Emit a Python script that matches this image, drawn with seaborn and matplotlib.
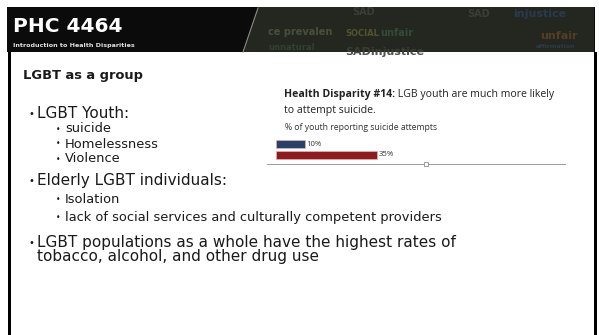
import matplotlib
matplotlib.use("Agg")
import matplotlib.pyplot as plt
import seaborn as sns
import pandas as pd
from matplotlib.patches import Rectangle, Polygon
from matplotlib.lines import Line2D

# ---- data ----
groups = ["Heterosexual youth", "LGB youth"]
attempt_pct = [10, 35]
bar_labels = ["10%", "35%"]
bar_colors = ["#1c3f74", "#9e0a0f"]

slide_code = "PHC 4464"
slide_subtitle = "Introduction to Health Disparities"
slide_heading = "LGBT as a group"
bullets = [
    (0, "LGBT Youth:"),
    (1, "suicide"),
    (1, "Homelessness"),
    (1, "Violence"),
    (0, "Elderly LGBT individuals:"),
    (1, "Isolation"),
    (1, "lack of social services and culturally competent providers"),
    (0, "LGBT populations as a whole have the highest rates of\ntobacco, alcohol, and other drug use"),
]
chart_title_bold = "Health Disparity #14:"
chart_title_rest = " LGB youth are much more likely"
chart_title_line2 = "to attempt suicide."
chart_subtitle = "% of youth reporting suicide attempts"
cloud_words = [("ce prevalen", 268, 32, "#4d5540", 7), ("SAD", 352, 12, "#3c403a", 7),
               ("SOCIAL", 345, 33, "#5a5730", 6), ("unfair", 380, 33, "#34503a", 7),
               ("SADinjustice", 345, 52, "#3c4038", 8), ("injustice", 513, 14, "#2a3d55", 8),
               ("unfair", 540, 36, "#5a3f26", 8), ("SAD", 467, 14, "#3c403a", 7),
               ("unnatural", 268, 47, "#344530", 6), ("affirmation", 536, 47, "#2e3d4d", 4.5)]

W, H = 599, 335
fig = plt.figure(figsize=(W / 100, H / 100), dpi=100)
fig.patch.set_facecolor("white")


def fx(x):
    return x / W


def fy(y):
    return 1 - y / H


# ---- header band ----
fig.patches.append(Rectangle((fx(7), fy(52)), fx(588), 45 / H, transform=fig.transFigure,
                             facecolor="#0b0b0b", edgecolor="none", zorder=0))
fig.patches.append(Polygon([(fx(258), fy(7)), (fx(594), fy(7)), (fx(594), fy(52)), (fx(243), fy(52))],
                           closed=True, transform=fig.transFigure, facecolor="#23271f",
                           edgecolor="none", zorder=0.5))
fig.lines.append(Line2D([fx(258), fx(243)], [fy(8), fy(52)], transform=fig.transFigure,
                        color="#8a8a8a", lw=0.8, zorder=1))
for word, x, y, c, s in cloud_words:
    fig.text(fx(x), fy(y), word, color=c, fontsize=s, fontweight="bold", va="center",
             ha="left", alpha=0.9, family="DejaVu Sans", zorder=1, clip_on=True)

fig.text(fx(13), fy(26), slide_code, color="white", fontsize=14.5, fontweight="bold",
         va="center", ha="left", family="DejaVu Sans", zorder=2)
fig.text(fx(13), fy(46), slide_subtitle, color="#e0e0e0", fontsize=4.6, fontweight="bold",
         va="center", ha="left", family="DejaVu Sans", zorder=2)

# ---- side borders ----
fig.patches.append(Rectangle((fx(8), 0), fx(2.5), fy(52), transform=fig.transFigure,
                             facecolor="black", edgecolor="none", zorder=2))
fig.patches.append(Rectangle((fx(594), 0), fx(3), fy(52), transform=fig.transFigure,
                             facecolor="black", edgecolor="none", zorder=2))

# ---- slide text ----
txt_color = "#1a1a1a"
fig.text(fx(23), fy(75), slide_heading, fontsize=9.4, fontweight="bold", color=txt_color,
         va="center", ha="left", family="DejaVu Sans")
ys = [114, 129, 144, 159, 181, 200, 218, 243]
for (lvl, txt), y in zip(bullets, ys):
    if lvl == 0:
        fig.text(fx(28), fy(y), "•", fontsize=7, color=txt_color, va="center", ha="left")
        if "\n" in txt:
            fig.text(fx(37), fy(y - 7.5), txt, fontsize=11, color=txt_color, va="top",
                     ha="left", family="DejaVu Sans", linespacing=0.85)
        else:
            fig.text(fx(37), fy(y), txt, fontsize=11, color=txt_color, va="center",
                     ha="left", family="DejaVu Sans")
    else:
        fig.text(fx(56), fy(y), "•", fontsize=5.5, color=txt_color, va="center", ha="left")
        fig.text(fx(65), fy(y), txt, fontsize=9.4, color=txt_color, va="center", ha="left",
                 family="DejaVu Sans")

# ---- chart text ----
t = fig.text(fx(284), fy(95), chart_title_bold, fontsize=7.6, fontweight="bold", color="#222222",
             va="center", ha="left", family="Open Sans")
fig.canvas.draw()
bb = t.get_window_extent()
fig.text(bb.x1 / W, fy(95), chart_title_rest, fontsize=7.6, color="#222222",
         va="center", ha="left", family="Open Sans")
fig.text(fx(284), fy(110), chart_title_line2, fontsize=7.6, color="#222222",
         va="center", ha="left", family="Open Sans")
fig.text(fx(285), fy(128), chart_subtitle, fontsize=6.2, color="#333333",
         va="center", ha="left", family="Open Sans")

# ---- bars ----
ax = fig.add_axes([fx(276), fy(160), fx(565) - fx(276), 21 / H])
df = pd.DataFrame({"group": groups, "pct": attempt_pct})
sns.barplot(data=df, x="pct", y="group", hue="group", palette=bar_colors, orient="h",
            legend=False, ax=ax, width=0.78, linewidth=0.5, edgecolor="#e9b0b0")
ax.set_xlim(0, 100.5)
ax.axis("off")
for i, (v, lab) in enumerate(zip(attempt_pct, bar_labels)):
    ax.text(v + 0.6, i, lab, fontsize=5.6, color="#333333", va="center", ha="left",
            family="Open Sans")

fig.lines.append(Line2D([fx(267), fx(565)], [fy(164), fy(164)], transform=fig.transFigure,
                        color="#9a9a9a", lw=0.7))
fig.lines.append(Line2D([fx(426)], [fy(164)], transform=fig.transFigure, marker="s",
                        markersize=3, markerfacecolor="white", markeredgecolor="#8a8a8a",
                        markeredgewidth=0.6, lw=0))

fig.savefig("out.png", dpi=100)
